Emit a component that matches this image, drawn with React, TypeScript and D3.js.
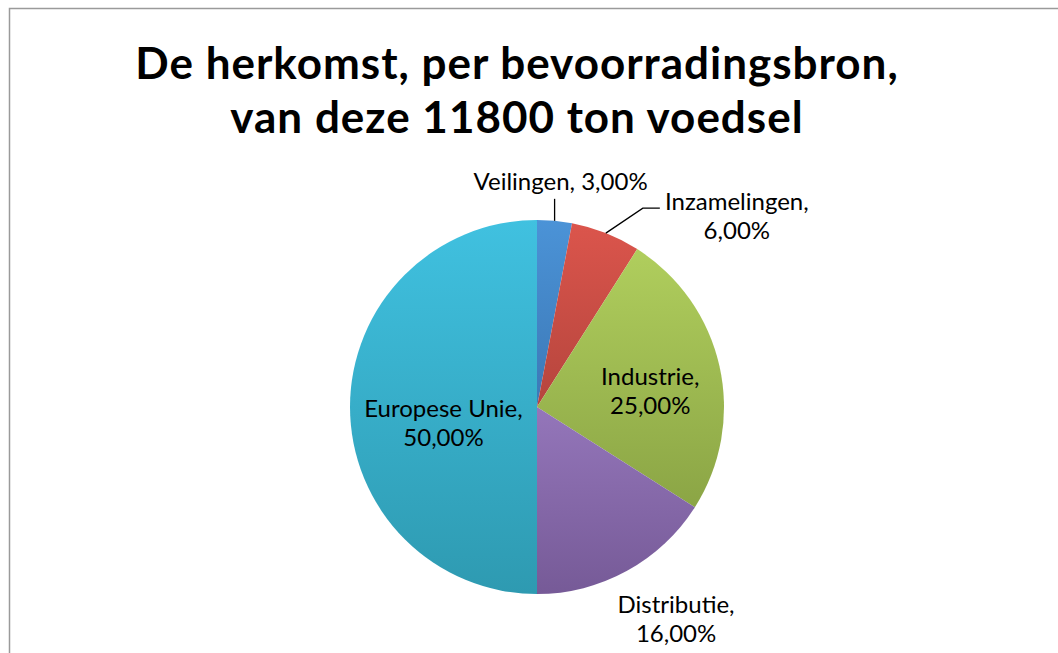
import React, { useEffect, useRef } from 'react';
import * as d3 from 'd3';

// slices, clockwise from 12 o'clock
const categories = ['Veilingen', 'Inzamelingen', 'Industrie', 'Distributie', 'Europese Unie'];
const shares = [3, 6, 25, 16, 50];
const valueLabels = ['3,00%', '6,00%', '25,00%', '16,00%', '50,00%'];
const titleLines = ['De herkomst, per bevoorradingsbron,', 'van deze 11800 ton voedsel'];

// top / bottom colour of each slice gradient
const gradTop = ['#4b93d7', '#db554c', '#b0ce5d', '#9476ba', '#40c1e0'];
const gradBottom = ['#3c78b6', '#b5453d', '#8ba545', '#765a97', '#2e9ab1'];

const App = () => {
    const node = useRef<SVGSVGElement | null>(null);

    useEffect(() => {
        const width = 1058;
        const height = 653;
        const cx = 537;
        const cy = 407;
        const radius = 187;
        const font = 'Lato, "Open Sans", sans-serif';
        const labelSize = 24;
        const lineGap = 29;

        const svg = d3.select(node.current);
        svg.selectAll('*').remove();
        svg.attr('width', width).attr('height', height);

        svg.append('rect')
            .attr('width', width)
            .attr('height', height)
            .attr('fill', '#fff');

        // chart area border (runs off the right and bottom of the picture)
        svg.append('rect')
            .attr('x', 9.5)
            .attr('y', 8.5)
            .attr('width', width + 20)
            .attr('height', height + 20)
            .attr('fill', 'none')
            .attr('stroke', '#9a9a9a')
            .attr('stroke-width', 1.5);

        // title
        svg.append('text')
            .attr('text-anchor', 'middle')
            .style('font-family', font)
            .style('font-weight', 700)
            .style('font-size', '44px')
            .style('letter-spacing', '1px')
            .attr('fill', '#000')
            .selectAll('tspan')
            .data(titleLines)
            .enter()
            .append('tspan')
            .attr('x', 517)
            .attr('y', (d, i) => 79 + i * 54)
            .text((d) => d);

        const data = categories.map((name, i) => ({
            name, value: shares[i], label: valueLabels[i], i,
        }));

        const defs = svg.append('defs');
        data.forEach((d) => {
            const g = defs.append('linearGradient')
                .attr('id', `slice-grad-${d.i}`)
                .attr('x1', 0).attr('y1', 0)
                .attr('x2', 0).attr('y2', 1);
            g.append('stop').attr('offset', '0%').attr('stop-color', gradTop[d.i]);
            g.append('stop').attr('offset', '100%').attr('stop-color', gradBottom[d.i]);
        });

        const pie = d3.pie<any>()
            .sort(null)
            .value((d) => d.value);
        const arcs = pie(data);

        const arc = d3.arc<any>()
            .innerRadius(0)
            .outerRadius(radius);
        const edge = d3.arc<any>()
            .innerRadius(radius)
            .outerRadius(radius);

        const chart = svg.append('g')
            .attr('transform', `translate(${cx},${cy})`);

        chart.selectAll('path.slice')
            .data(arcs)
            .enter()
            .append('path')
            .attr('class', 'slice')
            .attr('d', arc)
            .attr('fill', (d) => `url(#slice-grad-${d.data.i})`);

        const twoLines = [(d: any) => `${d.name},`, (d: any) => d.label];
        // label placement: offset from the slice's centroid (inside) or outer edge point
        const layout: Record<string, any> = {
            Veilingen: { lines: [(d: any) => `${d.name}, ${d.label}`], dx: 6, dy: -31, leader: [[0, -22]] },
            Inzamelingen: { lines: twoLines, dx: 131, dy: -23, leader: [[37, -25], [54, -25]] },
            Industrie: { lines: twoLines, dx: 22, dy: -2, inside: true },
            Distributie: { lines: twoLines, dx: 49, dy: 42 },
            'Europese Unie': { lines: twoLines, dx: 0, dy: 10, inside: true },
        };

        const labelG = chart.append('g')
            .style('font-family', font)
            .style('font-size', `${labelSize}px`)
            .attr('fill', '#000');

        arcs.forEach((a) => {
            const d = a.data;
            const conf = layout[d.name];
            const [ex, ey] = edge.centroid(a);
            const [mx, my] = arc.centroid(a);
            if (conf.leader) {
                const pts = [[ex, ey], ...conf.leader.map(([x, y]: number[]) => [ex + x, ey + y])];
                labelG.append('path')
                    .attr('d', d3.line()(pts as [number, number][]))
                    .attr('fill', 'none')
                    .attr('stroke', '#000')
                    .attr('stroke-width', 1.3);
            }
            const tx = (conf.inside ? mx : ex) + conf.dx;
            const ty = (conf.inside ? my : ey) + conf.dy;
            const text = labelG.append('text')
                .attr('text-anchor', 'middle');
            conf.lines.forEach((fn: any, j: number) => {
                text.append('tspan')
                    .attr('x', tx)
                    .attr('y', ty + j * lineGap)
                    .text(fn(d));
            });
        });
    }, []);

    return (
        <svg
            ref={node}
            style={{ position: 'absolute', left: 0, top: 0, display: 'block' }}
        />
    );
};

export default App;
